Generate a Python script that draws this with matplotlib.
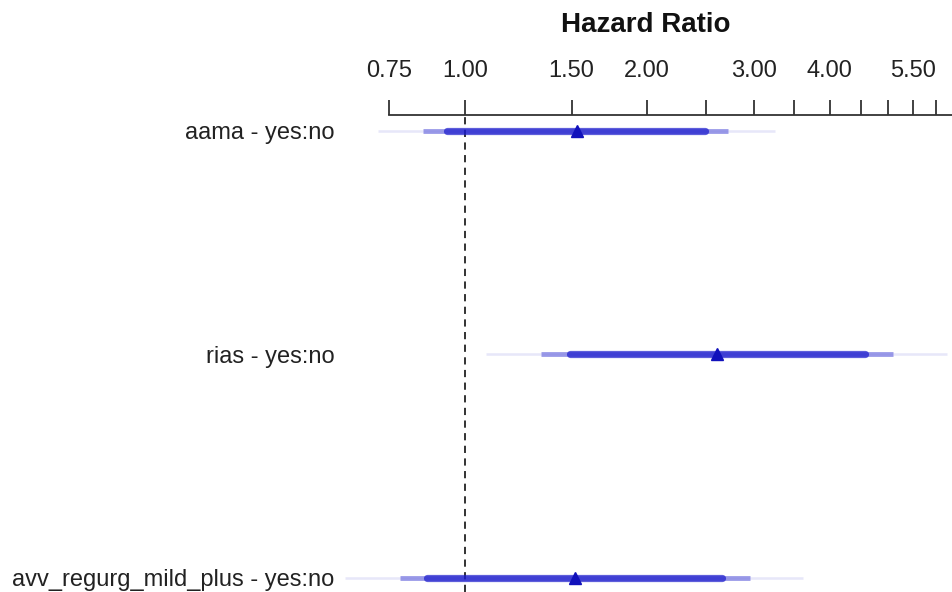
import matplotlib
matplotlib.use("Agg")
from matplotlib import pyplot as plt
from matplotlib.ticker import FixedLocator, FixedFormatter, NullLocator

plt.rcParams['font.family'] = ['Liberation Sans', 'DejaVu Sans']

# Hazard ratios with 0.90 / 0.95 / 0.99 confidence limits
labels = ["aama - yes:no", "rias - yes:no", "avv_regurg_mild_plus - yes:no"]
hr = [1.53, 2.61, 1.52]
lo90 = [0.934, 1.49, 0.866]
hi90 = [2.49, 4.58, 2.66]
lo95 = [0.852, 1.335, 0.781]
hi95 = [2.72, 5.09, 2.96]
lo99 = [0.718, 1.083, 0.634]
hi99 = [3.25, 6.25, 3.62]

tick_vals = [0.75, 1, 1.5, 2, 2.5, 3, 3.5, 4, 4.5, 5, 5.5, 6]
tick_text = ["0.75", "1.00", "1.50", "2.00", "", "3.00", "", "4.00", "", "", "5.50", ""]

W, H = 952, 592
fig = plt.figure(figsize=(W / 100, H / 100), dpi=100)
ax = fig.add_axes([340 / W, 0, (W - 340) / W, (H - 115) / H])

ypos = [3, 2, 1]
ax.set_xscale('log')
ax.set_xlim(0.622, 6.37)
ax.set_ylim(0.937, 3.0716)

# reference line at HR = 1
ax.axvline(1, color='#222222', lw=1.3, linestyle=(0, (4, 3)), zorder=1)

blue = (0.1, 0.1, 0.8)
for i, y in enumerate(ypos):
    ax.plot([lo99[i], hi99[i]], [y, y], color=blue, alpha=0.1, lw=1.9,
            solid_capstyle='butt', zorder=2)
    ax.plot([lo95[i], hi95[i]], [y, y], color=blue, alpha=0.4, lw=3.6,
            solid_capstyle='butt', zorder=3)
    ax.plot([lo90[i], hi90[i]], [y, y], color=blue, alpha=0.7, lw=5.2,
            solid_capstyle='round', zorder=4)
    ax.plot(hr[i], y, marker='^', color='#1111bb', ms=8, zorder=5)

for s in ['left', 'right', 'bottom']:
    ax.spines[s].set_visible(False)
ax.spines['top'].set_bounds(0.75, 6.37)
ax.spines['top'].set_linewidth(1.3)
ax.spines['top'].set_color('#333333')

ax.xaxis.tick_top()
ax.xaxis.set_major_locator(FixedLocator(tick_vals))
ax.xaxis.set_major_formatter(FixedFormatter(tick_text))
ax.xaxis.set_minor_locator(NullLocator())
ax.tick_params(axis='x', direction='out', length=10.8, width=1.3, color='#333333',
               pad=13, labelsize=17, labelcolor='#222222')

ax.set_yticks(ypos)
ax.set_yticklabels(labels)
ax.tick_params(axis='y', length=0, pad=4, labelsize=17, labelcolor='#222222')

fig.text(646 / W, 1 - 25 / H, "Hazard Ratio", ha='center', va='center',
         fontsize=20, fontweight='bold', color='#111111')

fig.savefig('out.png', dpi=100)
